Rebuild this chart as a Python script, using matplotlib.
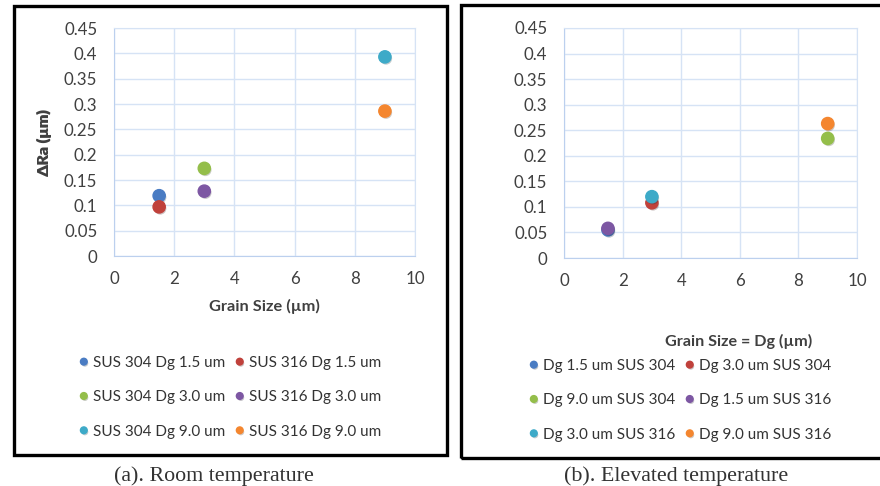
"""Grain size vs. delta Ra scatter, room and elevated temperature panels."""

import matplotlib
matplotlib.use("Agg")
import matplotlib.pyplot as plt
import matplotlib.patheffects as pe
from matplotlib.patches import Rectangle

W, H = 880, 486

# ---- data ----
room_labels = ["SUS 304 Dg 1.5 um", "SUS 316 Dg 1.5 um",
               "SUS 304 Dg 3.0 um", "SUS 316 Dg 3.0 um",
               "SUS 304 Dg 9.0 um", "SUS 316 Dg 9.0 um"]
room_grain = [1.5, 1.5, 3.0, 3.0, 9.0, 9.0]
room_dra = [0.119, 0.097, 0.173, 0.128, 0.393, 0.286]

elev_labels = ["Dg 1.5 um SUS 304", "Dg 3.0 um SUS 304",
               "Dg 9.0 um SUS 304", "Dg 1.5 um SUS 316",
               "Dg 3.0 um SUS 316", "Dg 9.0 um SUS 316"]
elev_grain = [1.5, 3.0, 9.0, 1.5, 3.0, 9.0]
elev_dra = [0.055, 0.108, 0.234, 0.058, 0.120, 0.263]

series_colors = ["#4A7CC3", "#C0413B", "#94BE4A", "#7D57A3", "#3DAAC8", "#F4862F"]
x_ticks = [0, 2, 4, 6, 8, 10]
y_ticks = [0, 0.05, 0.1, 0.15, 0.2, 0.25, 0.3, 0.35, 0.4, 0.45]

FONT = "Lato"
TEXT = "#404040"
GRID = "#D6E3F5"


def px_axes(fig, x0, y0, x1, y1):
    return fig.add_axes([x0 / W, 1 - y1 / H, (x1 - x0) / W, (y1 - y0) / H])


def draw_panel(fig, rect, grain, dra, labels):
    ax = px_axes(fig, *rect)
    x0, y0, x1, y1 = rect
    shadow = [pe.SimplePatchShadow(offset=(0.8, -1.2), alpha=0.25), pe.Normal()]
    handles = []
    for gx, gy, lab, col in zip(grain, dra, labels, series_colors):
        h, = ax.plot([gx], [gy], "o", ms=8.8, color=col, mec=col,
                     path_effects=shadow, label=lab, zorder=3)
        handles.append(h)
    ax.set_xlim(0, 10)
    ax.set_ylim(0, 0.45)
    ax.set_xticks(x_ticks)
    ax.set_yticks(y_ticks)
    ax.set_xticklabels([f"{v:g}" for v in x_ticks])
    ax.set_yticklabels([f"{v:g}" for v in y_ticks])
    ax.grid(True, color=GRID, lw=1.0)
    ax.set_axisbelow(True)
    for side in ["top", "right"]:
        ax.spines[side].set_color(GRID)
    for side in ["left", "bottom"]:
        ax.spines[side].set_color("#BCD0EE")
    ax.tick_params(length=0, labelsize=12.2, labelcolor=TEXT)
    ax.tick_params(axis="y", pad=12)
    ax.tick_params(axis="x", pad=10.5)
    for t in ax.get_xticklabels() + ax.get_yticklabels():
        t.set_fontfamily(FONT)
    ax.set_ylabel("ΔRa (µm)", fontsize=11.5, fontweight="bold", color=TEXT,
                  family=FONT)
    ax.yaxis.set_label_coords((52 - x0) / (x1 - x0), 0.5)
    return ax, handles


def add_legend(fig, handles, left, top):
    order = [0, 2, 4, 1, 3, 5]
    fig.legend([handles[i] for i in order], [handles[i].get_label() for i in order],
               loc="upper left", bbox_to_anchor=(left / W, 1 - top / H),
               ncol=2, frameon=False, markerscale=0.55, handlelength=0.5,
               handletextpad=0.35, columnspacing=0.7, labelspacing=1.33,
               borderpad=0, borderaxespad=0,
               prop={"family": FONT, "size": 11}, labelcolor="#333333")


fig = plt.figure(figsize=(W / 100, H / 100), dpi=100)

# outer frames
fig.patches.append(Rectangle((13.5 / W, 1 - 454.5 / H), 433 / W, 448 / H,
                             transform=fig.transFigure, fill=False,
                             ec="black", lw=2.4))
fig.patches.append(Rectangle((460.5 / W, 1 - 457.5 / H), 430 / W, 452.5 / H,
                             transform=fig.transFigure, fill=False,
                             ec="black", lw=2.4))

ax_a, h_a = draw_panel(fig, (114, 28, 415, 256), room_grain, room_dra, room_labels)
ax_a.set_xlabel("Grain Size (µm)", fontsize=11.8, fontweight="bold", color=TEXT,
                family=FONT, va="center")
ax_a.xaxis.set_label_coords(0.5, -(306 - 256) / 228)
add_legend(fig, h_a, 80, 356)

ax_b, h_b = draw_panel(fig, (564, 28, 857, 258), elev_grain, elev_dra, elev_labels)
fig.text(739 / W, 1 - 341 / H, "Grain Size = Dg (µm)", ha="center", va="center",
         fontsize=11.6, fontweight="bold", color=TEXT, family=FONT)
add_legend(fig, h_b, 530, 359)

fig.text(214 / W, 1 - 476 / H, "(a). Room temperature", ha="center", va="center",
         fontsize=15.8, family="Liberation Serif", color="#333333")
fig.text(676 / W, 1 - 476 / H, "(b). Elevated temperature", ha="center", va="center",
         fontsize=15.8, family="Liberation Serif", color="#333333")

fig.savefig("out.png", dpi=100)
plt.close(fig)
